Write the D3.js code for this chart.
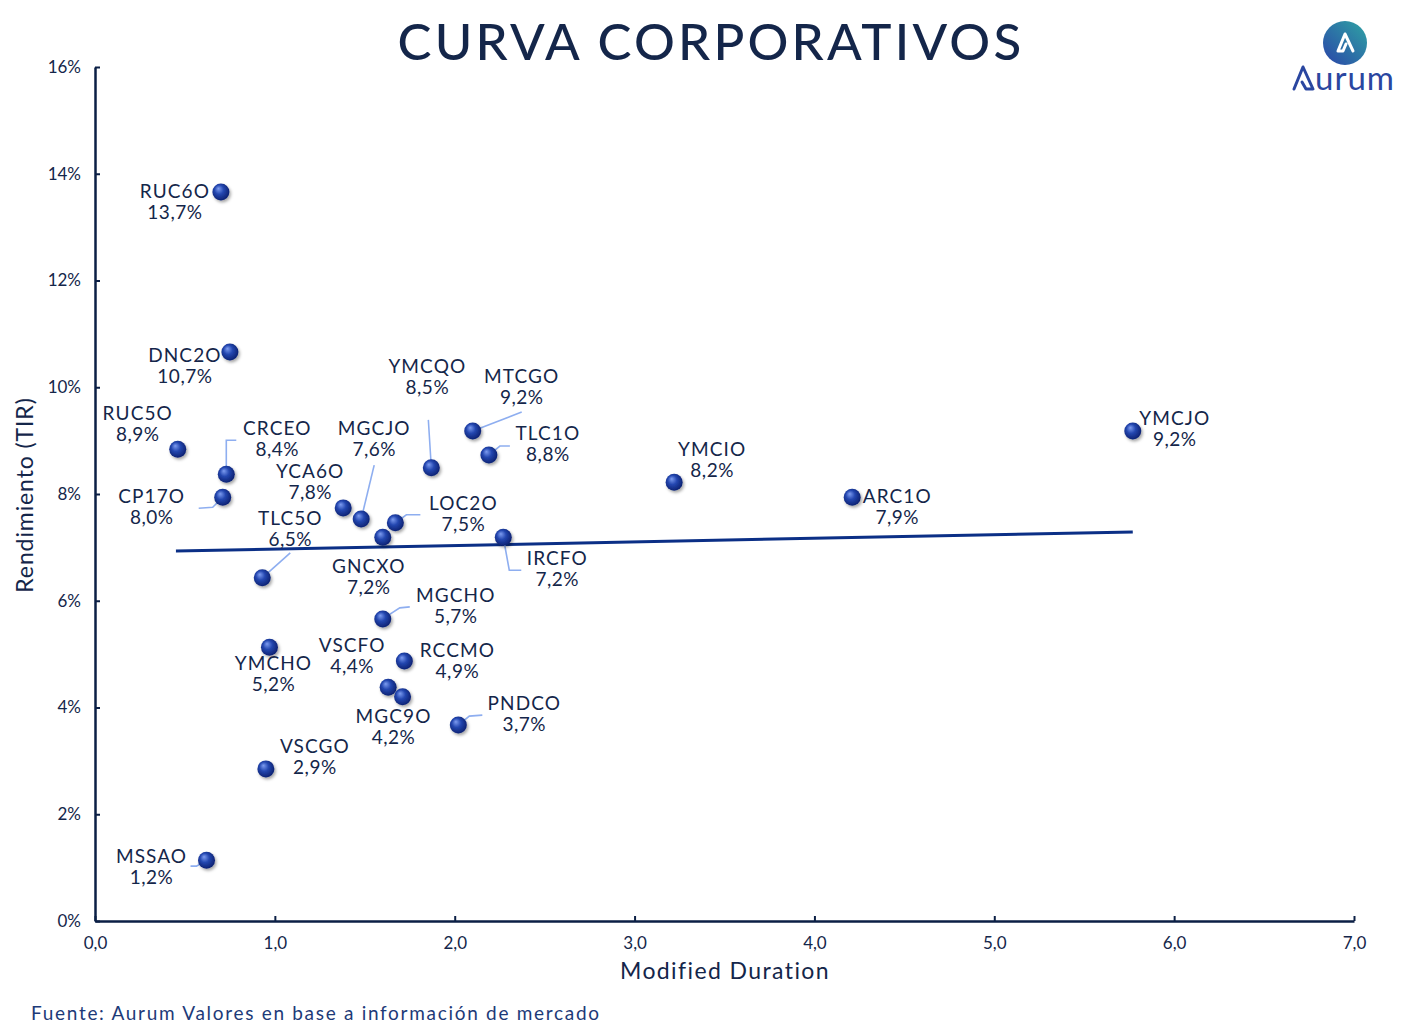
<!DOCTYPE html>
<html>
<head>
<meta charset="utf-8">
<script src="https://cdn.jsdelivr.net/npm/d3@7"></script>
<style>
  body { margin: 0; background: #fff; }
  svg text { font-family: Lato, 'Open Sans', sans-serif; fill: #14264a; }
</style>
</head>
<body>
<div id="chart"></div>
<script>
// bonds: name, modified duration, yield (%)
const names = ['RUC6O', 'DNC2O', 'RUC5O', 'CRCEO', 'CP17O', 'YCA6O', 'MGCJO', 'GNCXO', 'LOC2O', 'TLC5O',
	'YMCQO', 'MTCGO', 'TLC1O', 'IRCFO', 'YMCIO', 'ARC1O', 'YMCJO', 'MGCHO', 'YMCHO', 'RCCMO',
	'VSCFO', 'MGC9O', 'PNDCO', 'VSCGO', 'MSSAO'];
const durations = [0.70, 0.75, 0.46, 0.73, 0.71, 1.38, 1.48, 1.60, 1.67, 0.93,
	1.87, 2.10, 2.19, 2.27, 3.22, 4.21, 5.77, 1.60, 0.97, 1.72,
	1.63, 1.71, 2.02, 0.95, 0.62];
const yields = [13.66, 10.66, 8.84, 8.37, 7.94, 7.74, 7.53, 7.19, 7.46, 6.43,
	8.49, 9.18, 8.73, 7.19, 8.22, 7.94, 9.18, 5.66, 5.13, 4.87,
	4.38, 4.2, 3.67, 2.85, 1.14];
const yieldLabels = ['13,7%', '10,7%', '8,9%', '8,4%', '8,0%', '7,8%', '7,6%', '7,2%', '7,5%', '6,5%',
	'8,5%', '9,2%', '8,8%', '7,2%', '8,2%', '7,9%', '9,2%', '5,7%', '5,2%', '4,9%',
	'4,4%', '4,2%', '3,7%', '2,9%', '1,2%'];

// trend line end points (duration, yield %)
const trendX = [0.45, 5.77];
const trendY = [6.93, 7.29];

const xTicks = [0, 1, 2, 3, 4, 5, 6, 7];
const yTicks = [0, 2, 4, 6, 8, 10, 12, 14, 16];

// label offsets from the point (px) and leader line bends
const labelLayout = {
	RUC6O: { dx: -46, dy: 0 },
	DNC2O: { dx: -45, dy: 4 },
	RUC5O: { dx: -40, dy: -35 },
	CRCEO: { dx: 51, dy: -45, lead: [[0, -34], [10, -34]] },
	CP17O: { dx: -71, dy: 0, lead: [[-10, 10], [-24, 11]] },
	YCA6O: { dx: -33, dy: -36 },
	MGCJO: { dx: 13, dy: -90, lead: [[13, -54]] },
	GNCXO: { dx: -14, dy: 30 },
	LOC2O: { dx: 68, dy: -19, lead: [[11, -8], [25, -8]] },
	TLC5O: { dx: 28, dy: -59, lead: [[28, -25]] },
	YMCQO: { dx: -4, dy: -101, lead: [[-3, -48]] },
	MTCGO: { dx: 49, dy: -54, lead: [[49, -19]] },
	TLC1O: { dx: 59, dy: -21, lead: [[11, -9], [21, -9]] },
	IRCFO: { dx: 54, dy: 22, lead: [[6, 33], [18, 33]] },
	YMCIO: { dx: 38, dy: -32 },
	ARC1O: { dx: 45, dy: 0 },
	YMCJO: { dx: 42, dy: -12 },
	MGCHO: { dx: 73, dy: -23, lead: [[17, -11], [27, -12]] },
	YMCHO: { dx: 4, dy: 17 },
	RCCMO: { dx: 53, dy: -10 },
	VSCFO: { dx: -36, dy: -41 },
	MGC9O: { dx: -9, dy: 20 },
	PNDCO: { dx: 66, dy: -21, lead: [[11, -9], [24, -10]] },
	VSCGO: { dx: 49, dy: -22 },
	MSSAO: { dx: -55, dy: -3, lead: [[-10, 6], [-16, 6]] }
};

const width = 1422;
const height = 1033;
const navy = '#0b1f45';

const svg = d3.select('#chart').append('svg').attr('width', width).attr('height', height);

const defs = svg.append('defs');
const grad = defs.append('radialGradient').attr('id', 'ball').attr('cx', '45%').attr('cy', '45%')
	.attr('r', '60%').attr('fx', '35%').attr('fy', '30%');
grad.append('stop').attr('offset', '0%').attr('stop-color', '#7d9cf0');
grad.append('stop').attr('offset', '45%').attr('stop-color', '#2447b0');
grad.append('stop').attr('offset', '100%').attr('stop-color', '#0a1d6b');
const shadow = defs.append('filter').attr('id', 'shadow').attr('x', '-50%').attr('y', '-50%')
	.attr('width', '200%').attr('height', '200%');
shadow.append('feDropShadow').attr('dx', 1.5).attr('dy', 2).attr('stdDeviation', 1.5)
	.attr('flood-color', '#000').attr('flood-opacity', 0.35);
const logoGrad = defs.append('linearGradient').attr('id', 'logo').attr('x1', '0%').attr('y1', '100%')
	.attr('x2', '100%').attr('y2', '0%');
logoGrad.append('stop').attr('offset', '0%').attr('stop-color', '#2a44a8');
logoGrad.append('stop').attr('offset', '100%').attr('stop-color', '#2fa4a4');

const x = d3.scaleLinear().domain([0, 7]).range([95, 1354]);
const y = d3.scaleLinear().domain([0, 16]).range([921, 67]);

const fmt = d3.formatLocale({ decimal: ',', thousands: '.', grouping: [3], currency: ['', ''] });

// title
svg.append('text').attr('x', 711).attr('y', 60).attr('text-anchor', 'middle')
	.style('font-size', '51px').style('font-weight', 500).style('letter-spacing', '3.2px')
	.text('CURVA CORPORATIVOS');

// axes
const xAxis = svg.append('g').attr('transform', `translate(0,${y(0)})`)
	.call(d3.axisBottom(x).tickValues(xTicks).tickSizeInner(-5).tickSizeOuter(0).tickPadding(16)
		.tickFormat(fmt.format('.1f')));
const yAxis = svg.append('g').attr('transform', `translate(${x(0)},0)`)
	.call(d3.axisLeft(y).tickValues(yTicks).tickSizeInner(-5).tickSizeOuter(0).tickPadding(14)
		.tickFormat((d) => d + '%'));
[xAxis, yAxis].forEach((g) => {
	g.select('.domain').attr('stroke', navy).attr('stroke-width', 2.5);
	g.selectAll('.tick line').attr('stroke', navy).attr('stroke-width', 2);
	g.selectAll('.tick text').style('font-size', '17px').attr('fill', '#14264a');
});

svg.append('text').attr('x', 725).attr('y', 979).attr('text-anchor', 'middle')
	.style('font-size', '23px').style('letter-spacing', '1.4px')
	.text('Modified Duration');
svg.append('text').attr('transform', 'translate(33,495) rotate(-90)').attr('text-anchor', 'middle')
	.style('font-size', '23px').style('letter-spacing', '0.9px')
	.text('Rendimiento (TIR)');

// trend line
svg.append('line')
	.attr('x1', x(trendX[0])).attr('y1', y(trendY[0]))
	.attr('x2', x(trendX[1])).attr('y2', y(trendY[1]))
	.attr('stroke', '#0b2f86').attr('stroke-width', 3);

const points = names.map((n, i) => ({ name: n, dur: durations[i], yld: yields[i], label: yieldLabels[i] }));

// leader lines
points.forEach((d) => {
	const lay = labelLayout[d.name];
	if (!lay.lead) return;
	const px = x(d.dur);
	const py = y(d.yld);
	const pts = [[px, py]].concat(lay.lead.map((p) => [px + p[0], py + p[1]]));
	svg.append('path').attr('d', d3.line()(pts)).attr('fill', 'none')
		.attr('stroke', '#8eaef0').attr('stroke-width', 1.6);
});

// markers
svg.selectAll('circle.bond').data(points).enter().append('circle')
	.attr('class', 'bond')
	.attr('cx', (d) => x(d.dur))
	.attr('cy', (d) => y(d.yld))
	.attr('r', 8.5)
	.attr('fill', 'url(#ball)')
	.attr('filter', 'url(#shadow)');

// labels
const labels = svg.selectAll('g.lbl').data(points).enter().append('g')
	.attr('class', 'lbl')
	.attr('transform', (d) => `translate(${x(d.dur) + labelLayout[d.name].dx},${y(d.yld) + labelLayout[d.name].dy})`);
labels.append('text').attr('text-anchor', 'middle').attr('y', 6)
	.style('font-size', '19px').style('letter-spacing', '1.1px').text((d) => d.name);
labels.append('text').attr('text-anchor', 'middle').attr('y', 27)
	.style('font-size', '19px').style('letter-spacing', '0.5px').text((d) => d.label);

// source
svg.append('text').attr('x', 31).attr('y', 1020)
	.style('font-size', '19px').style('letter-spacing', '1.7px').style('fill', '#1d3a78')
	.text('Fuente: Aurum Valores en base a información de mercado');

// logo
const logo = svg.append('g').attr('transform', 'translate(1345,43)');
logo.append('circle').attr('r', 22).attr('fill', 'url(#logo)');
logo.append('path').attr('d', 'M-7,8 L0,-9 L8,8 M-7,8 L-2,8 L1,1')
	.attr('fill', 'none').attr('stroke', '#fff').attr('stroke-width', 3)
	.attr('stroke-linejoin', 'round').attr('stroke-linecap', 'round');
svg.append('path').attr('d', 'M1294,89 L1303,67 L1313,89 L1306,89 L1302,82')
	.attr('fill', 'none').attr('stroke', '#2a46a0').attr('stroke-width', 3)
	.attr('stroke-linejoin', 'round').attr('stroke-linecap', 'round');
svg.append('text').attr('x', 1315).attr('y', 90)
	.style('font-size', '33px').style('letter-spacing', '1px').style('fill', '#2a46a0').text('urum');
</script>
</body>
</html>
